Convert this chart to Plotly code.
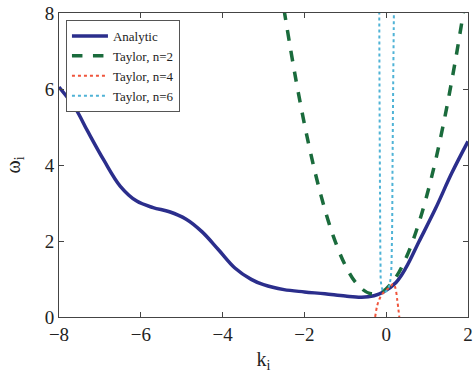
import plotly.graph_objects as go

# Analytic curve
k_analytic = [-8.0, -7.6, -7.3, -6.9, -6.5, -6.1, -5.7, -5.3, -4.9, -4.5, -4.1, -3.7, -3.3, -3.0,
              -2.5, -2.0, -1.5, -1.0, -0.6, -0.3, -0.08, 0.24, 0.48, 0.8, 1.2, 1.6, 2.0]
w_analytic = [6.05, 5.49, 4.89, 4.12, 3.44, 3.05, 2.88, 2.77, 2.58, 2.24, 1.77, 1.29, 0.99, 0.85,
              0.72, 0.66, 0.61, 0.55, 0.52, 0.56, 0.65, 0.91, 1.29, 1.98, 2.84, 3.78, 4.62]

# Taylor n=2
k_t2 = [-2.5, -2.2, -1.9, -1.6, -1.3, -1.0, -0.7, -0.4, -0.1, 0.2, 0.5, 0.8, 1.1, 1.4, 1.7, 1.9]
w_t2 = [8.10, 6.20, 4.57, 3.22, 2.15, 1.36, 0.85, 0.62, 0.66, 0.99, 1.59, 2.48, 3.64, 5.08, 6.80, 8.10]

# Taylor n=4
k_t4 = [-0.27, -0.22, -0.17, -0.10, 0.0, 0.10, 0.17, 0.22, 0.27, 0.32]
w_t4 = [0.0, 0.30, 0.46, 0.60, 0.70, 0.80, 0.87, 0.78, 0.45, 0.0]

# Taylor n=6
k_t6 = [-0.17, -0.16, -0.15, -0.14, -0.12, -0.06, 0.0, 0.06, 0.11, 0.14, 0.155, 0.17, 0.19]
w_t6 = [8.2, 5.0, 3.0, 1.5, 0.85, 0.66, 0.68, 0.78, 1.04, 2.0, 4.0, 6.0, 8.2]

x_ticks = [-8, -6, -4, -2, 0, 2]
y_ticks = [0, 2, 4, 6, 8]

FONT = "Liberation Serif"

fig = go.Figure()
fig.add_trace(go.Scatter(x=k_analytic, y=w_analytic, mode="lines", name="Analytic",
                         line=dict(color="#2B2E8C", width=3.5, shape="spline")))
fig.add_trace(go.Scatter(x=k_t2, y=w_t2, mode="lines", name="Taylor, n=2",
                         line=dict(color="#1A6B3C", width=3.5, dash="dash", shape="spline")))
fig.add_trace(go.Scatter(x=k_t4, y=w_t4, mode="lines", name="Taylor, n=4",
                         line=dict(color="#F0553C", width=2, dash="dot", shape="spline")))
fig.add_trace(go.Scatter(x=k_t6, y=w_t6, mode="lines", name="Taylor, n=6",
                         line=dict(color="#4FB3D6", width=2, dash="dot", shape="spline")))

axis_common = dict(showline=True, linecolor="#444", linewidth=1, mirror="ticks",
                   ticks="inside", ticklen=5, tickcolor="#444", showgrid=False, zeroline=False,
                   ticklabeloverflow="allow",
                   tickfont=dict(family=FONT, size=19, color="#222"))

fig.update_xaxes(range=[-8, 2], tickvals=x_ticks,
                 title=dict(text="k<sub>i</sub>", font=dict(family=FONT, size=20, color="#222"), standoff=8),
                 **axis_common)
fig.update_yaxes(range=[0, 8], tickvals=y_ticks,
                 title=dict(text="ω<sub>i</sub>", font=dict(family=FONT, size=20, color="#222"), standoff=18),
                 **axis_common)

fig.update_layout(
    width=476, height=381,
    margin=dict(l=59, r=3, t=6, b=64),
    paper_bgcolor="white", plot_bgcolor="white",
    showlegend=True,
    legend=dict(x=0.017, y=0.977, xanchor="left", yanchor="top",
                bgcolor="white", bordercolor="#555", borderwidth=1,
                font=dict(family=FONT, size=13, color="#222"),
                tracegroupgap=0, itemwidth=36),
)

fig.write_html("out.html")
